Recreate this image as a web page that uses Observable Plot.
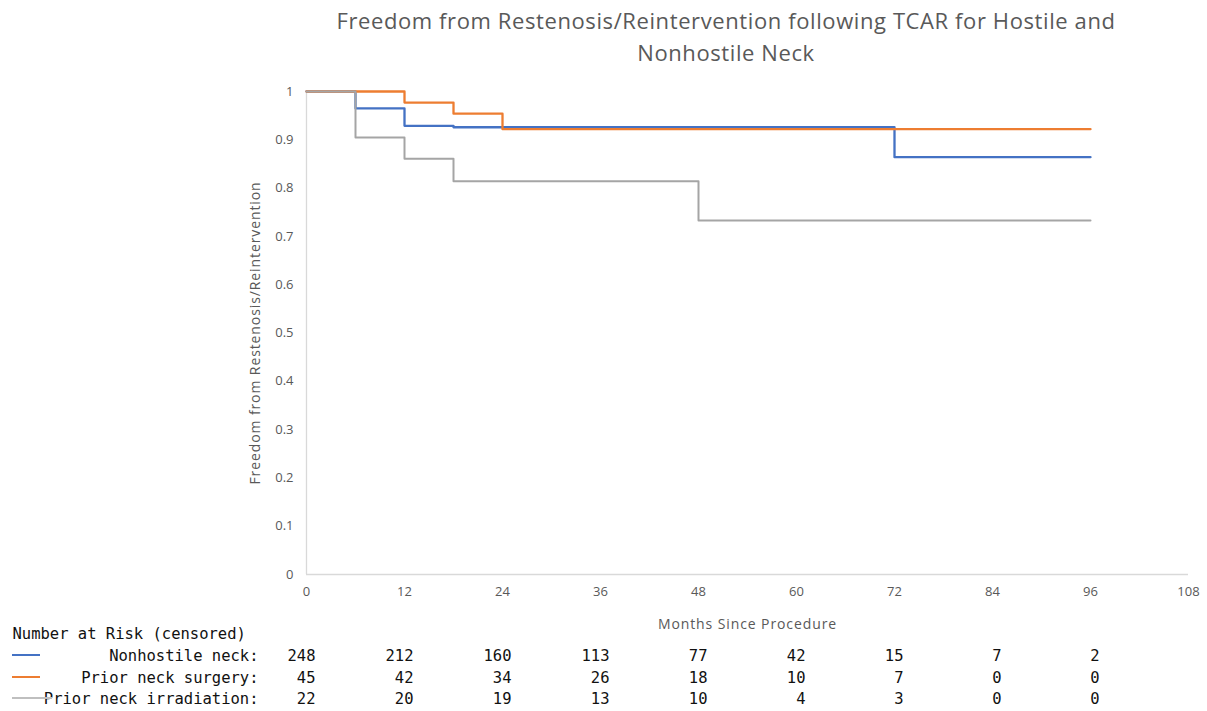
<!DOCTYPE html>
<html>
<head>
<meta charset="utf-8">
<script src="https://cdn.jsdelivr.net/npm/d3@7"></script>
<script src="https://cdn.jsdelivr.net/npm/@observablehq/plot@0.6"></script>
<style>
  html, body { margin: 0; padding: 0; background: #fff; }
  #wrap { position: relative; width: 1207px; height: 711px; overflow: hidden; }
  #title { box-sizing: border-box; width: 1207px; height: 70px; padding: 4px 0 0 245px; text-align: center;
           font-family: "Open Sans", sans-serif; font-size: 22px; letter-spacing: 0.6px; line-height: 32px; color: #595959; }
  .sw { position: absolute; left: 12px; height: 1.5px; }
  g[aria-label="x-axis label"] text, g[aria-label="y-axis label"] text { font-size: 14px; letter-spacing: 0.9px; }
</style>
</head>
<body>
<div id="wrap">
  <div id="title"><div>Freedom from Restenosis/Reintervention following TCAR for Hostile and</div><div>Nonhostile Neck</div></div>
  <div id="chart"></div>
  <div class="sw" style="top:654px; width:28px; background:#4472C4"></div>
  <div class="sw" style="top:676px; width:28px; background:#ED7D31"></div>
  <div class="sw" style="top:697px; width:40px; background:#BFBFBF"></div>
</div>
<script>
// ---- data ----
const seriesNames = ["Nonhostile neck", "Prior neck surgery", "Prior neck irradiation"];
const seriesColors = ["#4472C4", "#ED7D31", "#A5A5A5"];

const nonhostileMonths = [0, 6, 12, 18, 72, 96];
const nonhostileSurv   = [1, 0.965, 0.929, 0.926, 0.864, 0.864];

const surgeryMonths = [0, 12, 18, 24, 96];
const surgerySurv   = [1, 0.977, 0.954, 0.922, 0.922];

const irradiationMonths = [0, 6, 12, 18, 48, 96];
const irradiationSurv   = [1, 0.905, 0.861, 0.814, 0.733, 0.733];

const xTicks = [0, 12, 24, 36, 48, 60, 72, 84, 96, 108];
const yTicks = [0, 0.1, 0.2, 0.3, 0.4, 0.5, 0.6, 0.7, 0.8, 0.9, 1];

const riskMonths = [0, 12, 24, 36, 48, 60, 72, 84, 96];
const riskNonhostile  = [248, 212, 160, 113, 77, 42, 15, 7, 2];
const riskSurgery     = [45, 42, 34, 26, 18, 10, 7, 0, 0];
const riskIrradiation = [22, 20, 19, 13, 10, 4, 3, 0, 0];
const riskHeader = "Number at Risk (censored)";

// ---- build ----
const curves = [
  {months: nonhostileMonths, surv: nonhostileSurv},
  {months: surgeryMonths, surv: surgerySurv},
  {months: irradiationMonths, surv: irradiationSurv}
].map((s, i) => s.months.map((m, j) => ({series: seriesNames[i], month: m, surv: s.surv[j]})));

const riskRows = [riskNonhostile, riskSurgery, riskIrradiation].map((vals, i) =>
  riskMonths.map((m, j) => ({series: seriesNames[i], month: m, n: vals[j]})));

const rowDy = [86, 108, 129];
const mono = "'DejaVu Sans Mono', 'Liberation Mono', monospace";

const marks = [
  Plot.ruleY([0], {stroke: "#D9D9D9", strokeWidth: 1.3}),
  Plot.ruleX([0], {stroke: "#D9D9D9", strokeWidth: 1.3}),
  Plot.axisX({ticks: xTicks, tickSize: 0, tickPadding: 12, fontSize: 13, fill: "#595959",
              label: "Months Since Procedure", labelAnchor: "center", labelArrow: "none", labelOffset: 54}),
  Plot.axisY({ticks: yTicks, tickSize: 0, tickPadding: 13, fontSize: 13, fill: "#595959",
              tickFormat: d => String(+d.toFixed(1)),
              label: "Freedom from Restenosis/Reintervention", labelAnchor: "center", labelArrow: "none", labelOffset: 56}),
  ...curves.map((c, i) => Plot.line(c, {x: "month", y: "surv", curve: "step-after",
              stroke: seriesColors[i], strokeWidth: i === 2 ? 2 : 2.3})),
  Plot.text([riskHeader], {text: d => d, frameAnchor: "bottom-left", textAnchor: "start",
              dx: -294, dy: 64, fontFamily: mono, fontSize: 15.5, fill: "#111"}),
  ...seriesNames.map((name, i) => Plot.text([name + ":"], {text: d => d, frameAnchor: "bottom-left",
              textAnchor: "end", dx: -48, dy: rowDy[i], fontFamily: mono, fontSize: 15.5, fill: "#111"})),
  ...riskRows.map((row, i) => Plot.text(row, {x: "month", text: d => String(d.n), frameAnchor: "bottom",
              textAnchor: "end", dx: 9, dy: rowDy[i], fontFamily: mono, fontSize: 15.5, fill: "#111"}))
];

const chart = Plot.plot({
  width: 1207,
  height: 641,
  marginTop: 21,
  marginBottom: 137,
  marginLeft: 306,
  marginRight: 19,
  style: {fontFamily: "'Open Sans', sans-serif", fontSize: "13px", color: "#595959", overflow: "visible"},
  x: {domain: [0, 108]},
  y: {domain: [0, 1]},
  marks
});
document.getElementById("chart").appendChild(chart);
</script>
</body>
</html>
